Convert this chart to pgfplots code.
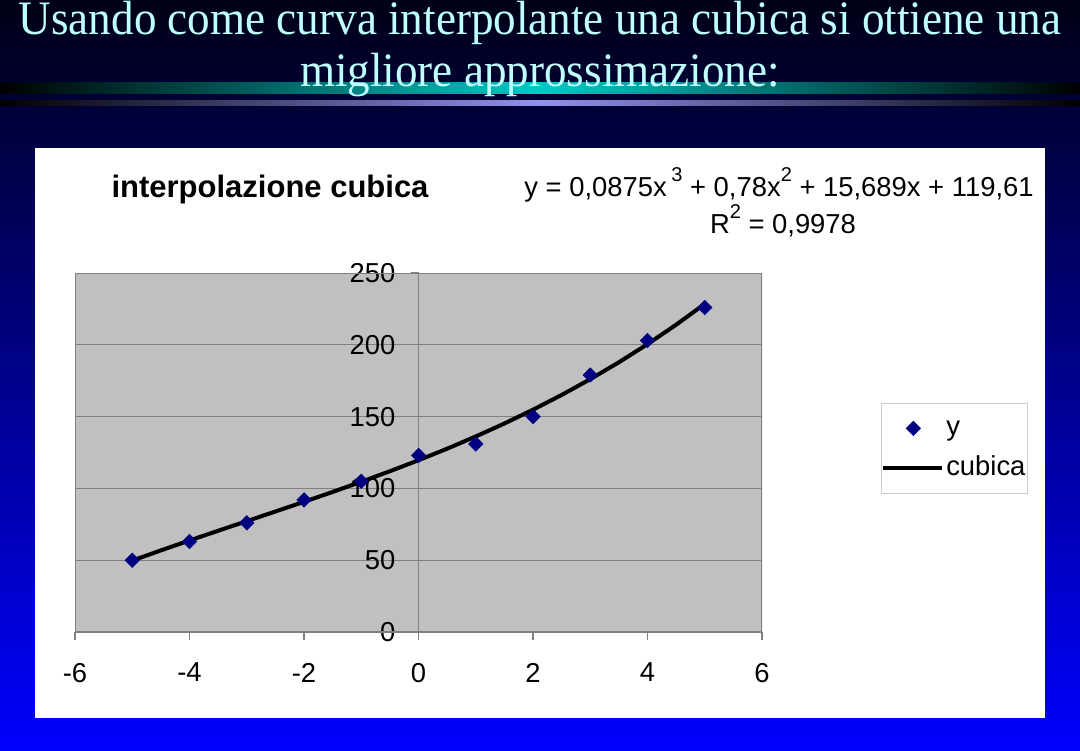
\documentclass[border=0pt]{standalone}
\usepackage{pgfplots}
\pgfplotsset{compat=1.18}
\usepackage{fontspec}
\setmainfont{Liberation Sans}
\newfontfamily\titlefont{Liberation Serif}
\definecolor{bgtop}{RGB}{0,0,22}
\definecolor{bgbot}{RGB}{0,0,255}
\definecolor{titlecyan}{RGB}{190,255,255}
\definecolor{plotgray}{RGB}{192,192,192}
\definecolor{gridgray}{RGB}{128,128,128}
\definecolor{navy}{RGB}{0,0,128}
\definecolor{barteal}{RGB}{0,200,200}
\definecolor{barlilac}{RGB}{145,145,240}
\newcommand{\sz}{\fontsize{13.7}{16}\selectfont}
\newcommand{\expo}[1]{\raisebox{0.55em}{\fontsize{10}{10}\selectfont #1}}

\begin{document}
\begin{tikzpicture}[x=0.5pt,y=0.5pt]
\useasboundingbox (0,0) rectangle (1080,750);
% slide background
\shade[top color=bgtop,bottom color=bgbot] (0,0) rectangle (1080,750);
\shade[left color=black, right color=black, middle color=barteal] (0,656) rectangle (1080,667);
\shade[left color=black, right color=black, middle color=barlilac] (0,644) rectangle (1080,649);
% slide title
\node[anchor=base, text=titlecyan, font=\titlefont\fontsize{24}{28}\selectfont, xscale=0.94]
  at (540,715) {Usando come curva interpolante una cubica si ottiene una};
\node[anchor=base, text=titlecyan, font=\titlefont\fontsize{24}{28}\selectfont, xscale=0.94]
  at (540,663) {migliore approssimazione:};
% chart area
\fill[white] (35,32) rectangle (1045,602);
\node[anchor=base, font=\bfseries\fontsize{15.5}{18}\selectfont] at (270,552) {interpolazione cubica};
\node[anchor=base, font=\sz] at (779,553)
  {y = 0,0875x\,\expo{3} + 0,78x\expo{2} + 15,689x + 119,61};
\node[anchor=base, font=\sz] at (783,516) {R\expo{2} = 0,9978};

\begin{axis}[
  at={(37.5pt,59pt)}, anchor=south west,
  width=343.5pt, height=179.5pt, scale only axis,
  xmin=-6, xmax=6, ymin=0, ymax=250,
  axis lines=middle,
  axis line style={-, draw=gridgray, line width=0.8pt},
  xtick={-6,-4,...,6},
  ytick={0,50,...,250},
  hide obscured x ticks=false, hide obscured y ticks=false,
  tick align=outside, major tick length=4pt,
  tick style={gridgray, line width=0.6pt},
  ymajorgrids, grid style={gridgray, line width=0.5pt},
  axis background/.style={fill=plotgray},
  tick label style={font=\sz},
  /pgf/number format/assume math mode=true,
  xticklabel style={yshift=-8pt},
  yticklabel style={xshift=-4pt},
  legend style={at={(1.173,0.638)}, anchor=north west, draw=gray!40,
    fill=white, font=\sz, cells={anchor=west}, row sep=5pt,
    inner xsep=0pt, inner ysep=5pt,
    nodes={inner xsep=1pt, inner ysep=1pt, text height=10pt, text depth=3pt}},
  legend image code/.code={\draw[mark repeat=2,mark phase=2,#1]
    plot coordinates {(0pt,0pt) (15pt,0pt) (29.5pt,0pt)};},
]
\draw[gridgray, line width=0.8pt] (rel axis cs:0,0) rectangle (rel axis cs:1,1);

% data points
\addplot[only marks, mark=square*, mark size=2.5pt, mark options={rotate=45}, color=navy] coordinates {
(-5,50) (-4,63) (-3,76) (-2,92) (-1,105) (0,123)
(1,131) (2,150) (3,179) (4,203) (5,226)
};

% cubic trendline
\addplot[black, line width=2pt] coordinates {
(-5,49.73) (-4.5,56.83) (-4,63.73) (-3.5,70.50) (-3,77.20) (-2.5,83.90)
(-2,90.65) (-1.5,97.54) (-1,104.61) (-0.5,111.95) (0,119.61) (0.5,127.66)
(1,136.17) (1.5,145.19) (2,154.81) (2.5,165.07) (3,176.06) (3.5,187.83)
(4,200.45) (4.5,213.98) (5,228.49)
};

\legend{y\hspace{4pt}, cubica\hspace{4pt}}
\end{axis}
\end{tikzpicture}
\end{document}
